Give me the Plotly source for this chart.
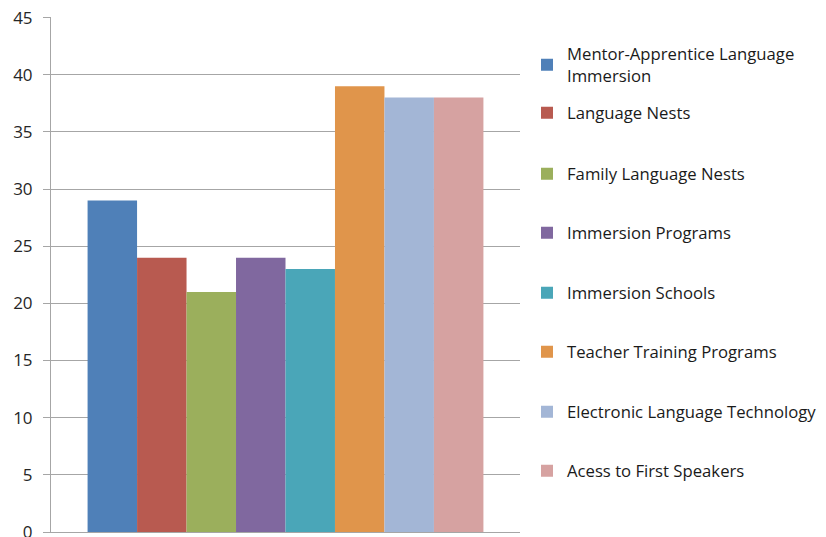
import plotly.graph_objects as go

# Survey results: one category, eight programme types
series_names = [
    "Mentor-Apprentice Language<br>Immersion",
    "Language Nests",
    "Family Language Nests",
    "Immersion Programs",
    "Immersion Schools",
    "Teacher Training Programs",
    "Electronic Language Technology",
    "Acess to First Speakers",
]
series_values = [29, 24, 21, 24, 23, 39, 38, 38]
series_colors = [
    "#4F80B8", "#B85A50", "#9BAF5C", "#80689F",
    "#4AA6B8", "#E0954B", "#A3B6D6", "#D6A2A1",
]
y_ticks = [0, 5, 10, 15, 20, 25, 30, 35, 40, 45]

# legend entry centres (page pixels from top) to mimic the Excel layout
legend_centres = [65, 113, 174, 233, 293, 352, 412, 471]

# the html body adds an 8px offset around the figure
OFF = 8
PLOT_TOP, PLOT_BOTTOM = 17 - OFF, 532 - OFF
PLOT_LEFT, PLOT_RIGHT = 51 - OFF, 520 - OFF
LEGEND_LEFT = 527 - OFF
W, H = 826, 537

fig = go.Figure()
layout_legends = {}
for i, (name, val, col) in enumerate(zip(series_names, series_values, series_colors)):
    key = "legend" if i == 0 else f"legend{i + 1}"
    fig.add_trace(go.Bar(
        x=[""],
        y=[val],
        name=name,
        marker=dict(color=col, line=dict(width=0)),
        legend=key,
    ))
    layout_legends[key] = dict(
        x=(LEGEND_LEFT - PLOT_LEFT) / (PLOT_RIGHT - PLOT_LEFT),
        xanchor="left",
        y=(PLOT_BOTTOM - (legend_centres[i] - OFF)) / (PLOT_BOTTOM - PLOT_TOP),
        yanchor="middle",
        bgcolor="rgba(0,0,0,0)",
        borderwidth=0,
        font=dict(family="Open Sans", size=16.7, color="#1a1a1a"),
    )

fig.update_layout(
    width=W,
    height=H,
    barmode="group",
    bargap=0.156,
    bargroupgap=0,
    plot_bgcolor="white",
    paper_bgcolor="white",
    margin=dict(l=PLOT_LEFT, r=W - PLOT_RIGHT, t=PLOT_TOP, b=H - PLOT_BOTTOM,
                autoexpand=False),
    showlegend=True,
    **layout_legends,
)

fig.update_yaxes(
    range=[0, 45.05],
    tickvals=y_ticks,
    showgrid=True,
    gridcolor="#A6A6A6",
    gridwidth=1,
    showline=True,
    linecolor="#A6A6A6",
    ticks="outside",
    ticklen=7,
    tickcolor="#A6A6A6",
    ticklabelstandoff=7,
    ticklabeloverflow="allow",
    zeroline=False,
    tickfont=dict(family="Open Sans", size=17, color="#262626"),
)
fig.update_xaxes(
    showticklabels=False,
    showline=True,
    linecolor="#A6A6A6",
    showgrid=False,
)

fig.write_html("out.html")
